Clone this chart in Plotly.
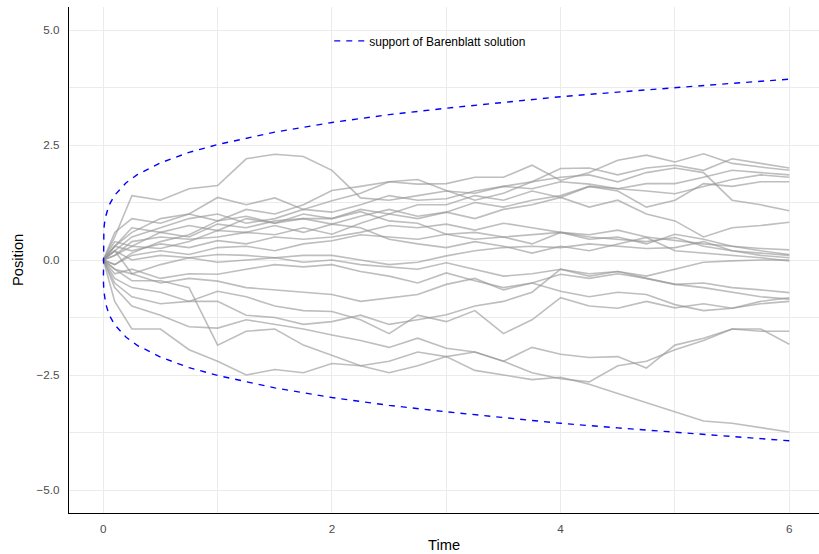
import plotly.graph_objects as go

# ---- data ----
TIME = [0, 0.1, 0.25, 0.5, 0.75, 1, 1.25, 1.5, 1.75, 2, 2.25, 2.5, 2.75, 3,
        3.25, 3.5, 3.75, 4, 4.25, 4.5, 4.75, 5, 5.25, 5.5, 5.75, 6]

path01 = [0, 0.5, 1.4, 1.3, 1.55, 1.62, 2.2, 2.3, 2.25, 1.95, 1.35, 1.3, 1.4, 1.5, 1.45, 1.6, 1.55, 1.7, 1.65, 1.55, 1.5, 1.44, 1.6, 1.75, 1.85, 1.8]
path02 = [0, 0.3, 0.6, 0.9, 1.0, 0.85, 1.1, 1.0, 1.2, 1.51, 1.6, 1.7, 1.65, 1.66, 1.8, 1.8, 2.06, 1.73, 1.9, 2.17, 2.28, 2.13, 2.31, 2.1, 2.02, 1.95]
path03 = [0, 0.6, 0.9, 0.8, 1.0, 1.36, 1.2, 1.35, 1.1, 1.29, 1.45, 1.7, 1.75, 1.51, 1.3, 1.45, 1.7, 1.99, 2.0, 1.85, 2.0, 2.06, 1.95, 2.2, 2.1, 2.0]
path04 = [0, 0.2, 0.5, 0.7, 0.9, 1.0, 0.8, 0.9, 1.1, 1.04, 1.2, 1.4, 1.3, 1.33, 1.5, 1.6, 1.7, 1.8, 1.85, 1.7, 1.9, 2.0, 1.9, 1.3, 1.2, 1.07]
path05 = [0, 0.4, 0.3, 0.6, 0.5, 0.78, 0.7, 0.85, 0.9, 0.78, 0.95, 1.1, 0.95, 1.04, 0.9, 1.1, 1.2, 1.36, 1.15, 1.3, 1.0, 0.85, 0.5, 0.7, 0.75, 0.82]
path06 = [0, 0.3, 0.7, 0.6, 0.75, 0.64, 0.9, 0.8, 1.0, 0.9, 1.1, 1.0, 1.2, 1.2, 1.4, 1.3, 1.5, 1.36, 1.6, 1.5, 1.15, 1.3, 1.66, 1.6, 1.7, 1.7]
path07 = [0, 0.1, 0.4, 0.5, 0.45, 0.5, 0.6, 0.55, 0.7, 0.56, 0.8, 1.0, 0.9, 1.04, 1.25, 1.15, 1.3, 1.4, 1.6, 1.55, 1.66, 1.66, 1.8, 1.95, 1.9, 1.85]
path08 = [0, 0.3, 0.2, 0.35, 0.27, 0.42, 0.35, 0.5, 0.45, 0.5, 0.6, 0.75, 0.7, 0.78, 0.65, 0.8, 0.7, 0.6, 0.55, 0.65, 0.5, 0.42, 0.35, 0.3, 0.25, 0.22]
path09 = [0, -0.1, 0.1, 0.2, 0.12, 0.27, 0.3, 0.2, 0.35, 0.42, 0.55, 0.5, 0.45, 0.56, 0.6, 0.5, 0.55, 0.6, 0.45, 0.5, 0.35, 0.56, 0.45, 0.3, 0.2, 0.12]
path10 = [0, 0.2, 0.0, 0.1, 0.05, 0.12, 0.1, 0.05, 0.1, 0.1, 0.0, -0.1, -0.05, 0.09, 0.2, 0.27, 0.3, 0.27, 0.35, 0.3, 0.25, 0.27, 0.4, 0.2, 0.1, 0.05]
path11 = [0, -0.2, -0.3, -0.1, 0.05, -0.05, 0.0, 0.05, -0.05, 0.0, -0.1, -0.15, -0.2, -0.06, -0.2, -0.35, -0.3, -0.2, -0.3, -0.25, -0.35, -0.2, -0.05, -0.02, 0.0, 0.0]
path12 = [0, 0.1, 0.3, 0.25, 0.4, 0.64, 0.6, 0.75, 0.6, 0.78, 0.7, 0.45, 0.35, 0.27, 0.4, 0.3, 0.15, 0.3, 0.2, 0.35, 0.49, 0.2, 0.15, 0.1, 0.05, -0.02]
path13 = [0, -0.1, 0.15, 0.4, 0.55, 0.85, 0.95, 0.8, 0.9, 0.9, 1.05, 0.85, 0.8, 0.56, 0.45, 0.5, 0.35, 0.6, 0.5, 0.45, 0.4, 0.49, 0.3, 0.2, 0.15, 0.1]
path14 = [0, -0.3, -0.2, -0.4, -0.3, -0.31, -0.2, -0.1, -0.15, -0.1, -0.25, -0.35, -0.5, -0.28, -0.45, -0.6, -0.5, -0.31, -0.4, -0.3, -0.4, -0.53, -0.5, -0.6, -0.65, -0.71]
path15 = [0, 0.2, -0.3, -0.5, -0.4, -0.46, -0.6, -0.65, -0.7, -0.75, -0.9, -0.82, -0.75, -0.53, -0.4, -0.65, -0.5, -0.68, -0.8, -0.7, -0.75, -0.97, -1.1, -1.05, -0.9, -0.82]
path16 = [0, -0.4, -0.6, -0.7, -0.9, -0.68, -0.8, -1.0, -1.1, -1.12, -1.3, -1.6, -1.2, -1.34, -1.1, -1.6, -1.3, -0.82, -1.0, -1.05, -0.9, -1.04, -0.95, -1.05, -0.95, -0.9]
path17 = [0, -0.5, -0.8, -0.95, -0.9, -0.9, -1.2, -1.25, -1.4, -1.34, -1.2, -1.4, -1.3, -1.19, -1.0, -0.9, -0.7, -0.2, -0.35, -0.25, -0.4, -0.53, -0.6, -0.7, -0.8, -0.85]
path18 = [0, -0.6, -1.0, -1.2, -1.45, -1.48, -1.3, -1.4, -1.5, -1.63, -1.75, -1.9, -1.7, -1.92, -2.0, -2.2, -2.45, -2.58, -2.65, -2.3, -2.2, -1.95, -1.75, -1.5, -1.55, -1.55]
path19 = [0, -0.2, -0.45, -0.45, -0.6, -1.85, -1.55, -1.5, -1.85, -2.07, -2.3, -2.2, -2.0, -2.1, -2.0, -2.2, -1.9, -2.05, -2.12, -2.1, -2.35, -1.85, -1.7, -1.5, -1.5, -1.83]
path20 = [0, -0.9, -1.5, -1.5, -1.95, -2.2, -2.5, -2.38, -2.45, -2.25, -2.3, -2.45, -2.3, -2.1, -2.4, -2.5, -2.6, -2.55, -2.7, -2.9, -3.1, -3.3, -3.5, -3.55, -3.65, -3.74]

PATHS = [path01, path02, path03, path04, path05, path06, path07, path08, path09, path10,
         path11, path12, path13, path14, path15, path16, path17, path18, path19, path20]

# support of the Barenblatt solution (half-width)
BAREN_T = [0, 0.001, 0.005, 0.01, 0.02, 0.05, 0.1, 0.2, 0.3, 0.5, 0.75, 1, 1.5, 2,
           2.5, 3, 3.5, 4, 4.5, 5, 5.5, 6]
BAREN_R = [0, 0.45, 0.67, 0.79, 0.94, 1.19, 1.41, 1.68, 1.86, 2.11, 2.34, 2.51, 2.78, 2.99,
           3.16, 3.30, 3.43, 3.55, 3.65, 3.75, 3.84, 3.93]
LEGEND_LABEL = "support of Barenblatt solution"

X_TICKS = [0, 2, 4, 6]
X_MINOR = [1, 3, 5]
Y_TICKS = [-5.0, -2.5, 0.0, 2.5, 5.0]
Y_TICK_TEXT = ["\u22125.0", "\u22122.5", "0.0", "2.5", "5.0"]
Y_MINOR = [-3.75, -1.25, 1.25, 3.75]

# ---- figure ----
fig = go.Figure()
for p in PATHS:
    fig.add_trace(go.Scatter(x=TIME, y=p, mode="lines",
                             line=dict(color="rgba(150,150,150,0.62)", width=1.6),
                             showlegend=False, hoverinfo="skip"))

curve_x = BAREN_T[::-1] + BAREN_T[1:]
curve_y = [-r for r in BAREN_R[::-1]] + BAREN_R[1:]
fig.add_trace(go.Scatter(x=curve_x, y=curve_y, mode="lines", name=LEGEND_LABEL,
                         line=dict(color="#0000FF", width=1.4, dash="6px,6px")))

grid = "#EBEBEB"
font = "Liberation Sans, Arial, sans-serif"
fig.update_layout(
    width=819, height=554,
    margin=dict(l=69, r=0, t=7, b=41),
    paper_bgcolor="white", plot_bgcolor="white",
    font=dict(family=font, color="black"),
    showlegend=True,
    legend=dict(x=0.347, y=0.933, xanchor="left", yanchor="middle",
                bgcolor="rgba(0,0,0,0)", font=dict(size=12, color="black"),
                itemwidth=30),
    xaxis=dict(range=[-0.3, 6.26], tickvals=X_TICKS, ticktext=[str(v) for v in X_TICKS],
               showgrid=True, gridcolor=grid, gridwidth=1.1, zeroline=False,
               showline=True, linecolor="black", linewidth=1.1, ticks="",
               ticklabelstandoff=5,
               tickfont=dict(size=11.7, color="#4D4D4D"),
               minor=dict(tickvals=X_MINOR, showgrid=True, gridcolor=grid, gridwidth=0.55)),
    yaxis=dict(range=[-5.5, 5.5], tickvals=Y_TICKS, ticktext=Y_TICK_TEXT,
               showgrid=True, gridcolor=grid, gridwidth=1.1, zeroline=False,
               showline=True, linecolor="black", linewidth=1.1, ticks="",
               ticklabelstandoff=6,
               tickfont=dict(size=11.7, color="#4D4D4D"),
               minor=dict(tickvals=Y_MINOR, showgrid=True, gridcolor=grid, gridwidth=0.55)),
    annotations=[
        dict(text="Time", xref="paper", yref="paper", x=0.5, y=0, xanchor="center",
             yanchor="middle", yshift=-32, showarrow=False, font=dict(size=14.7, color="black")),
        dict(text="Position", xref="paper", yref="paper", x=0, y=0.5, xanchor="center",
             yanchor="middle", xshift=-51, textangle=-90, showarrow=False,
             font=dict(size=14.7, color="black")),
    ],
)

fig.write_html("out.html",
               config={"displayModeBar": False},
               post_script="document.body.style.margin='0px';document.body.style.overflow='hidden';")
